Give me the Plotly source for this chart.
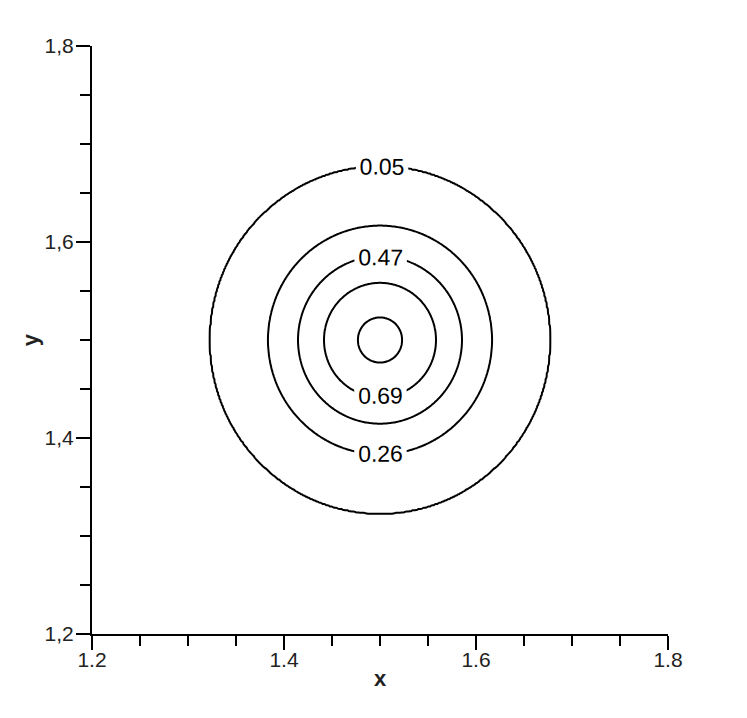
import numpy as np
import plotly.graph_objects as go

# Radial profile (distance from centre -> value)
center_x = 1.5
center_y = 1.5
profile_r = [0.0, 0.023, 0.058, 0.086, 0.117, 0.177, 0.30, 0.50]
profile_z = [1.0, 0.90, 0.69, 0.47, 0.26, 0.05, 0.0, 0.0]

level_start = 0.05
level_end = 0.9
level_size = 0.2124

x_range = [1.2, 1.8]
y_range = [1.2, 1.8]
y_tickvals = [1.2, 1.4, 1.6, 1.8]
y_ticktext = ["1,2", "1,4", "1,6", "1,8"]
x_tickvals = [1.2, 1.4, 1.6, 1.8]
x_ticktext = ["1.2", "1.4", "1.6", "1.8"]

xs = np.linspace(x_range[0], x_range[1], 481)
ys = np.linspace(y_range[0], y_range[1], 481)
X, Y = np.meshgrid(xs, ys)
R = np.sqrt((X - center_x) ** 2 + (Y - center_y) ** 2)
Z = np.interp(R, profile_r, profile_z)

FONT = "Liberation Sans, Arial"

fig = go.Figure(go.Contour(
    x=xs, y=ys, z=Z,
    autocontour=False,
    contours=dict(start=level_start, end=level_end, size=level_size,
                  coloring="none", showlabels=True, labelformat=".2~f",
                  labelfont=dict(family=FONT, size=23, color="black")),
    line=dict(color="black", width=2),
    showscale=False,
    hoverinfo="skip",
))

axis_common = dict(
    showgrid=False, zeroline=False, showline=True, linecolor="black", linewidth=2,
    ticks="outside", ticklen=14, tickwidth=2, tickcolor="black",
    tickfont=dict(family=FONT, size=21, color="#222"),
    minor=dict(dtick=0.05, ticks="outside", ticklen=10, tickwidth=2, tickcolor="black"),
    mirror=False,
)

fig.update_xaxes(range=x_range, tickvals=x_tickvals, ticktext=x_ticktext,
                 ticklabelstandoff=-8,
                 title=dict(text="<b>x</b>", font=dict(family=FONT, size=22, color="#222"), standoff=0),
                 **axis_common)
fig.update_yaxes(range=y_range, tickvals=y_tickvals, ticktext=y_ticktext,
                 ticklabelstandoff=-2,
                 title=dict(text="<b>y</b>", font=dict(family=FONT, size=22, color="#222"), standoff=0),
                 **axis_common)

fig.update_layout(
    width=739, height=710,
    margin=dict(l=84, r=79, t=38, b=84),
    plot_bgcolor="white", paper_bgcolor="white",
    showlegend=False,
)

fig.write_html("out.html")
